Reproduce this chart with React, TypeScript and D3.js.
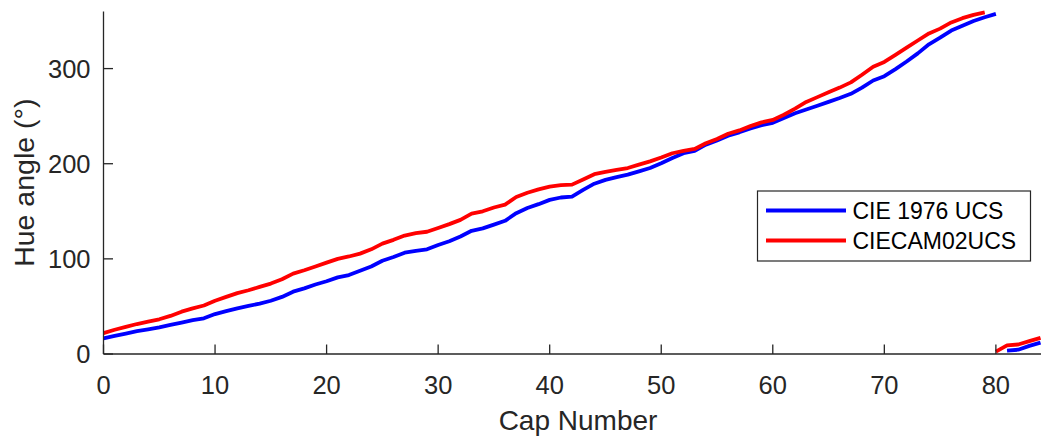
import React from "react";
import * as d3 from "d3";

// Cap numbers 0..84 of the hue test
const caps: number[] = d3.range(0, 85);

// Hue angle (degrees) per cap, CIE 1976 UCS
const hueCIE1976: number[] = [
  16.5, 19, 21.5, 24, 26, 28, 30.5, 33, 35.5, 37.5,
  42, 45, 48, 50.5, 53, 56, 60, 65.5, 69, 73,
  76.5, 80.5, 83, 87.5, 92, 98, 102, 106.5, 108.5, 110,
  114.5, 118.5, 123.5, 129.5, 132, 136, 140, 148, 153.5, 157.5,
  162, 164.5, 165.5, 172.5, 179, 183, 186, 188.5, 192, 195.5,
  200.5, 206, 211, 213.5, 220, 224.5, 229.5, 233, 237, 240.5,
  243, 248, 253, 257, 261, 265, 269, 273.5, 280, 287.5,
  292, 299.5, 307.5, 316, 325.5, 332.5, 340, 345, 350, 354,
  357.5, 3.5, 4.5, 8.5, 12,
];

// Hue angle (degrees) per cap, CIECAM02-UCS
const hueCIECAM02: number[] = [
  22, 25.5, 28.5, 31.5, 34, 36.5, 40, 44.5, 48, 51,
  56, 60, 64, 67, 70.5, 74, 78.5, 84.5, 88, 92,
  96, 100, 102.5, 105.5, 110, 116, 120, 124.5, 127, 128.5,
  132.5, 136.5, 141, 147.5, 150, 154, 157, 165, 169.5, 173,
  176, 177.5, 178, 183.5, 189, 191.5, 193.5, 195.5, 199, 202.5,
  206.5, 211, 213.5, 215.5, 221.5, 226, 231.5, 235, 239.5, 243.5,
  246, 251.5, 258, 265, 270, 275, 280, 285.5, 293.5, 302,
  307, 314.5, 322, 329.5, 337, 342, 348.5, 353, 356.5, 359,
  2.5, 9, 10, 13.5, 17,
];

const xTicks: number[] = [0, 10, 20, 30, 40, 50, 60, 70, 80];
const yTicks: number[] = [0, 100, 200, 300];

const seriesNames: string[] = ["CIE 1976 UCS", "CIECAM02UCS"];
const seriesColors: string[] = ["#0000ff", "#ff0000"];

const W = 1041;
const H = 437;
const margin = { left: 103.5, right: 0.5, top: 11.5, bottom: 83 };

const axisColor = "#262626";
const font = "'Liberation Sans', Arial, Helvetica, sans-serif";

// Split a hue sequence wherever it wraps around 360 -> 0
function segments(values: number[]): [number, number][][] {
  const out: [number, number][][] = [];
  let cur: [number, number][] = [];
  values.forEach((v, i) => {
    if (i > 0 && Math.abs(v - values[i - 1]) > 180) {
      out.push(cur);
      cur = [];
    }
    cur.push([caps[i], v]);
  });
  out.push(cur);
  return out;
}

export default function App() {
  const x = d3.scaleLinear().domain([0, 84]).range([margin.left, W - margin.right]);
  const y = d3.scaleLinear().domain([0, 360]).range([H - margin.bottom, margin.top]);
  const line = d3
    .line<[number, number]>()
    .x((d) => x(d[0]))
    .y((d) => y(d[1]));

  const series = [hueCIE1976, hueCIECAM02];
  const y0 = y(0);
  const tickLen = 9.5;

  const legend = { x: 757.5, y: 191, w: 273, h: 70 };

  return (
    <svg
      width={W}
      height={H}
      style={{ position: "absolute", left: 0, top: 0, background: "#fff" }}
      fontFamily={font}
    >
      <rect x={0} y={0} width={W} height={H} fill="#fff" />

      {/* data lines */}
      <g fill="none" strokeWidth={3.8} strokeLinejoin="round">
        {series.map((vals, si) =>
          segments(vals).map((seg, k) => (
            <path key={`${si}-${k}`} d={line(seg) ?? ""} stroke={seriesColors[si]} />
          ))
        )}
      </g>

      {/* axes */}
      <g stroke={axisColor} strokeWidth={1.3} fill="none">
        <line x1={x(0)} x2={x(0)} y1={y(360)} y2={y0} />
        <line x1={x(0)} x2={W} y1={y0} y2={y0} />
        {xTicks.map((t) => (
          <line key={`xt${t}`} x1={x(t)} x2={x(t)} y1={y0} y2={y0 - tickLen} />
        ))}
        {yTicks.map((t) => (
          <line key={`yt${t}`} x1={x(0)} x2={x(0) + tickLen} y1={y(t)} y2={y(t)} />
        ))}
      </g>

      <g fill={axisColor} fontSize={25.5}>
        {xTicks.map((t) => (
          <text key={`xl${t}`} x={x(t)} y={393.5} textAnchor="middle">
            {t}
          </text>
        ))}
        {yTicks.map((t) => (
          <text key={`yl${t}`} x={x(0) - 13} y={y(t)} dy="0.35em" textAnchor="end">
            {t}
          </text>
        ))}
      </g>

      <text x={578} y={430} textAnchor="middle" fontSize={28} fill={axisColor}>
        Cap Number
      </text>
      <text
        transform={`translate(33.5, ${(y(0) + y(360)) / 2}) rotate(-90)`}
        textAnchor="middle"
        fontSize={28.5}
        fill={axisColor}
      >
        Hue angle (°)
      </text>

      {/* legend */}
      <g>
        <rect
          x={legend.x}
          y={legend.y}
          width={legend.w}
          height={legend.h}
          fill="#fff"
          stroke={axisColor}
          strokeWidth={1.2}
        />
        {seriesNames.map((name, i) => {
          const ly = legend.y + 19.5 + i * 30;
          return (
            <g key={name}>
              <line
                x1={legend.x + 8.5}
                x2={legend.x + 88.5}
                y1={ly}
                y2={ly}
                stroke={seriesColors[i]}
                strokeWidth={3.8}
              />
              <text x={legend.x + 95} y={ly} dy="0.36em" fontSize={23} fill="#000">
                {name}
              </text>
            </g>
          );
        })}
      </g>
    </svg>
  );
}
